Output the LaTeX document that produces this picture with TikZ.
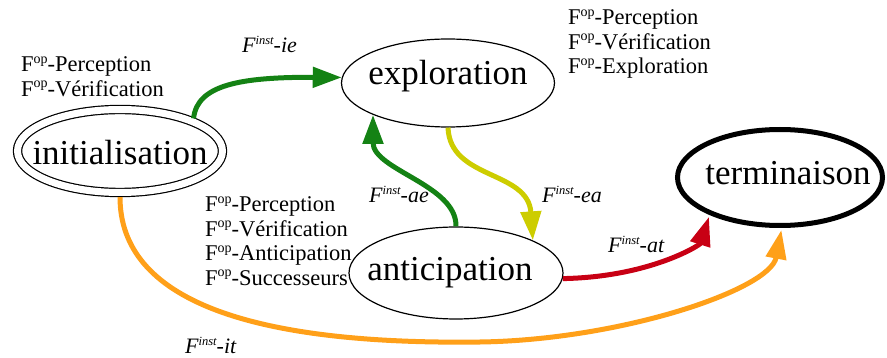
\documentclass[tikz,border=0pt]{standalone}
\usepackage{fontspec}
\setmainfont{Liberation Serif}
\usetikzlibrary{arrows.meta,shapes.geometric}
\definecolor{cgreen}{RGB}{20,130,20}
\definecolor{cyellow}{RGB}{205,205,0}
\definecolor{cred}{RGB}{200,0,20}
\definecolor{corange}{RGB}{255,160,25}
\newcommand{\opsup}{\raisebox{8.5pt}{\fontsize{14}{14}\selectfont op}}
\newcommand{\instsup}{\raisebox{8pt}{\fontsize{12.5}{12.5}\selectfont\itshape inst}}
\begin{document}
\begin{tikzpicture}[x=1pt,y=-1pt,
  state/.style={ellipse, draw, line width=1.2pt, inner sep=0pt, font=\fontsize{35}{40}\selectfont},
  oplist/.style={anchor=base west, inner sep=0pt, font=\fontsize{22.5}{24.5}\selectfont},
  flabel/.style={anchor=base west, inner sep=0pt, font=\fontsize{22}{24}\selectfont\itshape},
  conn/.style={line width=5pt, -{Triangle[length=29pt,width=20pt]}},
]
\useasboundingbox (0,0) rectangle (887,358);

% states
\node[state, double, double distance=7pt, minimum width=205pt, minimum height=83pt,
      text height=28pt, text depth=0pt] (init) at (120,151) {\makebox[0pt]{initialisation}};
\node[state, minimum width=213pt, minimum height=88pt,
      text height=14pt, text depth=10pt] (expl) at (448,83) {\makebox[0pt]{exploration}};
\node[state, minimum width=214pt, minimum height=92pt,
      text height=20pt, text depth=4pt] (ant) at (456,273) {\makebox[0pt]{anticipation\hspace*{12pt}}};
\node[state, line width=5pt, minimum width=205pt, minimum height=96pt,
      text height=20pt, text depth=5pt] (term) at (780,177.5) {\makebox[0pt]{\hspace*{16pt}terminaison}};

% operator lists
\node[oplist] (opinit) at (21,72) {\begin{tabular}[t]{@{}l@{}}
F\opsup-Perception\\
F\opsup-Vérification\end{tabular}};
\node[oplist] (opexpl) at (568,25) {\begin{tabular}[t]{@{}l@{}}
F\opsup-Perception\\
F\opsup-Vérification\\
F\opsup-Exploration\end{tabular}};
\node[oplist] (opant) at (205,212) {\begin{tabular}[t]{@{}l@{}}
F\opsup-Perception\\
F\opsup-Vérification\\
F\opsup-Anticipation\\
F\opsup-Successeurs\end{tabular}};

% transition labels
\node[flabel] (lie) at (242,53) {F\instsup-ie};
\node[flabel] (lae) at (369,203) {F\instsup-ae};
\node[flabel] (lea) at (542,203) {F\instsup-ea};
\node[flabel] (lat) at (608,253) {F\instsup-at};
\node[flabel] (lit) at (185,353) {F\instsup-it};

% transitions
\draw[conn, cgreen, shorten <=3pt] (init.22) .. controls (197,85) and (240,77) .. (expl.177);
\draw[conn, cgreen] (ant.north) .. controls (457,185) and (373,170) .. (expl.203);
\draw[conn, cyellow] (expl.south) .. controls (450,180) and (528,170) .. (ant.23);
\draw[conn, cred, shorten >=2pt] (ant.-3) .. controls (650,277) and (700,245) .. (term.208);
\draw[conn, corange, shorten <=4pt, shorten >=2pt] (init.south) .. controls (120,300) and (250,345) .. (480,342)
      .. controls (620,340) and (770,290) .. (term.272);
\end{tikzpicture}
\end{document}
